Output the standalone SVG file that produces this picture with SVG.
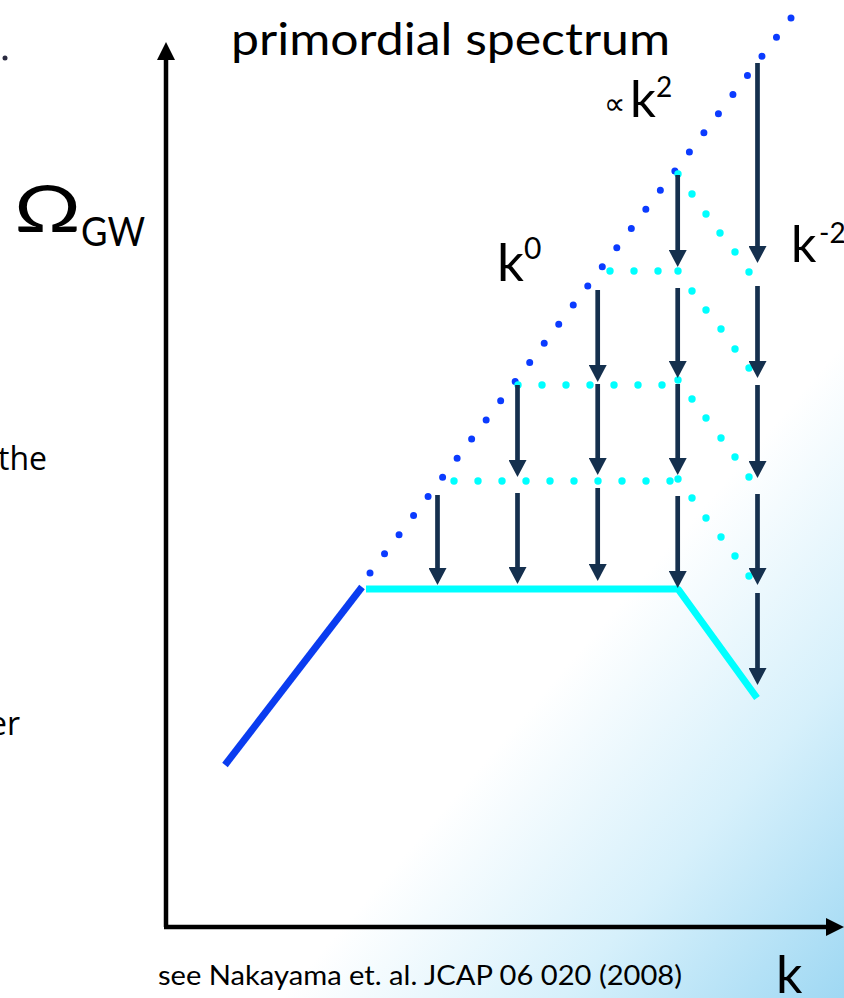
<svg xmlns="http://www.w3.org/2000/svg" width="844" height="998" viewBox="0 0 844 998">
<style>
.lbl{font-family:"Lato","Open Sans","DejaVu Sans",sans-serif;fill:#000}
.side{font-family:"Open Sans","Noto Sans",sans-serif;fill:#000;font-size:32px}
.bd{fill:#0b3bff}
.cd{fill:#00ffff}
.arr{stroke:#15304e;stroke-width:4.7;fill:none;marker-end:url(#ah)}
.axis{stroke:#000;stroke-width:4.5;fill:none}
</style>
<defs>
<linearGradient id="bg" gradientUnits="userSpaceOnUse" x1="520" y1="720" x2="844" y2="998">
<stop offset="0" stop-color="#ffffff"/>
<stop offset="0.5" stop-color="#d6f0fb"/>
<stop offset="1" stop-color="#9fd8f3"/>
</linearGradient>
<marker id="ah" viewBox="0 0 17 18" refX="9" refY="9" markerWidth="17" markerHeight="18" markerUnits="userSpaceOnUse" orient="auto">
<path d="M0,0 L17,9 L0,18 z" fill="#15304e"/>
</marker>
</defs>
<rect x="0" y="0" width="844" height="998" fill="url(#bg)"/>

<g id="stray">
<circle cx="5" cy="58" r="2.5" fill="#2a2a40"/>
<text class="side" x="47" y="470" text-anchor="end">the</text>
<text class="side" x="20" y="735" text-anchor="end">er</text>
</g>

<g id="axes">
<line class="axis" x1="166" y1="58" x2="166" y2="927"/>
<line class="axis" x1="164" y1="927" x2="828" y2="927"/>
<path d="M157,60 L166,42 L175,60 z" fill="#000"/>
<path d="M826,918 L844,927 L826,936 z" fill="#000"/>
</g>

<g id="labels">
<text class="lbl" x="231" y="55" font-size="45" textLength="439" lengthAdjust="spacingAndGlyphs">primordial spectrum</text>
<text class="lbl" x="14" y="232" font-size="66" textLength="67" lengthAdjust="spacingAndGlyphs">Ω</text>
<text class="lbl" x="81" y="246" font-size="40" textLength="64" lengthAdjust="spacingAndGlyphs">GW</text>
<text class="lbl" x="497" y="281" font-size="53">k</text>
<text class="lbl" x="524" y="259" font-size="30">0</text>
<text x="604" y="114" font-size="30" font-family="DejaVu Sans, sans-serif">∝</text>
<text class="lbl" x="630" y="117" font-size="51">k</text>
<text class="lbl" x="656" y="97" font-size="28">2</text>
<text class="lbl" x="791" y="262" font-size="50">k</text>
<text class="lbl" x="819" y="243" font-size="28">-2</text>
<text class="lbl" x="158" y="985" font-size="27" textLength="524" lengthAdjust="spacingAndGlyphs">see Nakayama et. al. JCAP 06 020 (2008)</text>
<text class="lbl" x="776" y="993" font-size="52">k</text>
</g>

<g id="primordial-dots">
<line x1="791" y1="18" x2="370" y2="573" stroke="#0b3bff" stroke-width="7" stroke-linecap="round" stroke-dasharray="0 24.02"/>
</g>

<g id="spectrum-lines">
<line x1="225" y1="765" x2="362" y2="587" stroke="#0a3cf0" stroke-width="7"/>
<polyline points="366,589 678,589 757,698" stroke="#00ffff" stroke-width="7" fill="none" stroke-linejoin="bevel"/>
</g>

<g id="cyan-dots">
<circle class="cd" cx="610" cy="271" r="3.7"/><circle class="cd" cx="634" cy="271" r="3.7"/><circle class="cd" cx="658" cy="271" r="3.7"/>
<circle class="cd" cx="518" cy="385" r="3.7"/><circle class="cd" cx="542" cy="385" r="3.7"/><circle class="cd" cx="566" cy="385" r="3.7"/><circle class="cd" cx="590" cy="385" r="3.7"/><circle class="cd" cx="614" cy="385" r="3.7"/><circle class="cd" cx="638" cy="385" r="3.7"/><circle class="cd" cx="662" cy="385" r="3.7"/>
<circle class="cd" cx="454" cy="481" r="3.7"/><circle class="cd" cx="478" cy="481" r="3.7"/><circle class="cd" cx="502" cy="481" r="3.7"/><circle class="cd" cx="526" cy="481" r="3.7"/><circle class="cd" cx="550" cy="481" r="3.7"/><circle class="cd" cx="574" cy="481" r="3.7"/><circle class="cd" cx="598" cy="481" r="3.7"/><circle class="cd" cx="622" cy="481" r="3.7"/><circle class="cd" cx="646" cy="481" r="3.7"/><circle class="cd" cx="670" cy="481" r="3.7"/>
<circle class="cd" cx="678" cy="174" r="3.7"/><circle class="cd" cx="692" cy="194" r="3.7"/><circle class="cd" cx="706" cy="214" r="3.7"/><circle class="cd" cx="720" cy="233" r="3.7"/><circle class="cd" cx="735" cy="252" r="3.7"/><circle class="cd" cx="749" cy="272" r="3.7"/>
<circle class="cd" cx="678" cy="271" r="3.7"/><circle class="cd" cx="692" cy="291" r="3.7"/><circle class="cd" cx="706" cy="310" r="3.7"/><circle class="cd" cx="721" cy="329" r="3.7"/><circle class="cd" cx="735" cy="349" r="3.7"/><circle class="cd" cx="749" cy="368" r="3.7"/>
<circle class="cd" cx="678" cy="380" r="3.7"/><circle class="cd" cx="692" cy="399" r="3.7"/><circle class="cd" cx="706" cy="418" r="3.7"/><circle class="cd" cx="721" cy="438" r="3.7"/><circle class="cd" cx="735" cy="457" r="3.7"/><circle class="cd" cx="749" cy="477" r="3.7"/>
<circle class="cd" cx="678" cy="479" r="3.7"/><circle class="cd" cx="692" cy="498" r="3.7"/><circle class="cd" cx="706" cy="518" r="3.7"/><circle class="cd" cx="721" cy="537" r="3.7"/><circle class="cd" cx="735" cy="556" r="3.7"/><circle class="cd" cx="749" cy="576" r="3.7"/>
</g>

<g id="connectors">
<line class="arr" x1="437.5" y1="495" x2="437.5" y2="577"/>
<line class="arr" x1="517.5" y1="385" x2="517.5" y2="469"/>
<line class="arr" x1="517.5" y1="493" x2="517.5" y2="576"/>
<line class="arr" x1="597.7" y1="290" x2="597.7" y2="374"/>
<line class="arr" x1="597.7" y1="384" x2="597.7" y2="467"/>
<line class="arr" x1="597.7" y1="488" x2="597.7" y2="573"/>
<line class="arr" x1="677.7" y1="175" x2="677.7" y2="259"/>
<line class="arr" x1="677.7" y1="288" x2="677.7" y2="370"/>
<line class="arr" x1="677.7" y1="384" x2="677.7" y2="467"/>
<line class="arr" x1="677.7" y1="496" x2="677.7" y2="580"/>
<line class="arr" x1="757.5" y1="63" x2="757.5" y2="255"/>
<line class="arr" x1="757.5" y1="286" x2="757.5" y2="370"/>
<line class="arr" x1="757.5" y1="385" x2="757.5" y2="470"/>
<line class="arr" x1="757.5" y1="494" x2="757.5" y2="577"/>
<line class="arr" x1="757.5" y1="593" x2="757.5" y2="677"/>
</g>
</svg>
